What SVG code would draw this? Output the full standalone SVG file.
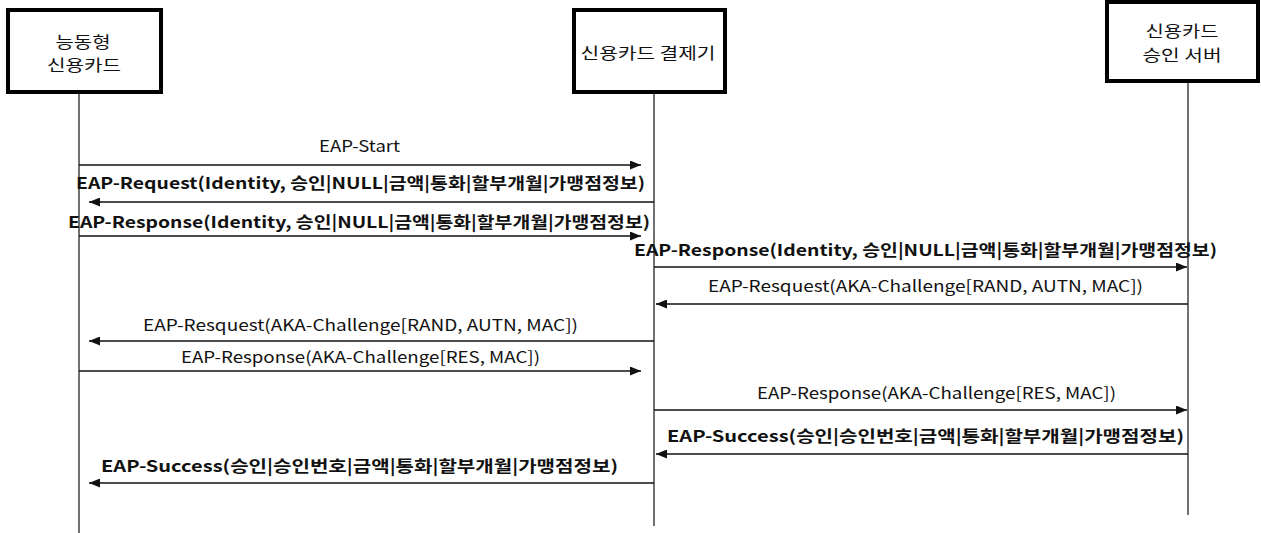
<svg xmlns="http://www.w3.org/2000/svg" width="1261" height="533" viewBox="0 0 1261 533">
<style>
.box{fill:#fff;stroke:#000;stroke-width:4}
.lt{font-family:"Noto Sans CJK KR","Noto Sans",sans-serif;font-size:16px;fill:#111;text-anchor:middle}
.life{stroke:#111;stroke-width:1.2;fill:none}
.msg{stroke:#111;stroke-width:1.3;fill:none;marker-end:url(#ah)}
.t{font-family:"Noto Sans CJK KR","Noto Sans",sans-serif;font-size:16px;fill:#111}
.b{font-weight:bold}
</style>
<defs>
<marker id="ah" markerUnits="userSpaceOnUse" markerWidth="12" markerHeight="9" refX="11" refY="4.5" orient="auto">
<path d="M0,0 L11,4.5 L0,9 z" fill="#111"/>
</marker>
</defs>
<g id="lifelines">
<line class="life" x1="79" y1="94" x2="79" y2="533"/>
<line class="life" x1="654" y1="94" x2="654" y2="526"/>
<line class="life" x1="1188" y1="83" x2="1188" y2="515"/>
</g>
<g id="node-card">
<rect class="box" x="8" y="10" width="153" height="82"/>
<text class="lt" x="83" y="48" textLength="55" lengthAdjust="spacingAndGlyphs">능동형</text>
<text class="lt" x="84" y="71" textLength="74" lengthAdjust="spacingAndGlyphs">신용카드</text>
</g>
<g id="node-terminal">
<rect class="box" x="574" y="10" width="151" height="82"/>
<text class="lt" x="648" y="59" textLength="135" lengthAdjust="spacingAndGlyphs">신용카드 결제기</text>
</g>
<g id="node-server">
<rect class="box" x="1107" y="2" width="151" height="79"/>
<text class="lt" x="1182" y="37" textLength="73" lengthAdjust="spacingAndGlyphs">신용카드</text>
<text class="lt" x="1182" y="61" textLength="79" lengthAdjust="spacingAndGlyphs">승인 서버</text>
</g>
<g id="connectors">
<line class="msg" x1="79" y1="165" x2="641" y2="165"/>
<text class="t" x="319" y="152" textLength="81" lengthAdjust="spacingAndGlyphs">EAP-Start</text>

<line class="msg" x1="654" y1="202" x2="89" y2="202"/>
<text class="t b" x="76" y="189" textLength="569" lengthAdjust="spacingAndGlyphs">EAP-Request(Identity, 승인|NULL|금액|통화|할부개월|가맹점정보)</text>

<line class="msg" x1="79" y1="236" x2="641" y2="236"/>
<text class="t b" x="68" y="228" textLength="582" lengthAdjust="spacingAndGlyphs">EAP-Response(Identity, 승인|NULL|금액|통화|할부개월|가맹점정보)</text>

<line class="msg" x1="654" y1="267" x2="1187" y2="267"/>
<text class="t b" x="634" y="256" textLength="583" lengthAdjust="spacingAndGlyphs">EAP-Response(Identity, 승인|NULL|금액|통화|할부개월|가맹점정보)</text>

<line class="msg" x1="1188" y1="304" x2="656" y2="304"/>
<text class="t" x="708" y="292" textLength="435" lengthAdjust="spacingAndGlyphs">EAP-Resquest(AKA-Challenge[RAND, AUTN, MAC])</text>

<line class="msg" x1="654" y1="341" x2="89" y2="341"/>
<text class="t" x="143" y="331" textLength="435" lengthAdjust="spacingAndGlyphs">EAP-Resquest(AKA-Challenge[RAND, AUTN, MAC])</text>

<line class="msg" x1="79" y1="371" x2="641" y2="371"/>
<text class="t" x="181" y="363" textLength="359" lengthAdjust="spacingAndGlyphs">EAP-Response(AKA-Challenge[RES, MAC])</text>

<line class="msg" x1="654" y1="410" x2="1187" y2="410"/>
<text class="t" x="757" y="399" textLength="359" lengthAdjust="spacingAndGlyphs">EAP-Response(AKA-Challenge[RES, MAC])</text>

<line class="msg" x1="1188" y1="454" x2="656" y2="454"/>
<text class="t b" x="667" y="442" textLength="517" lengthAdjust="spacingAndGlyphs">EAP-Success(승인|승인번호|금액|통화|할부개월|가맹점정보)</text>

<line class="msg" x1="654" y1="483" x2="89" y2="483"/>
<text class="t b" x="101" y="472" textLength="517" lengthAdjust="spacingAndGlyphs">EAP-Success(승인|승인번호|금액|통화|할부개월|가맹점정보)</text>
</g>
</svg>
